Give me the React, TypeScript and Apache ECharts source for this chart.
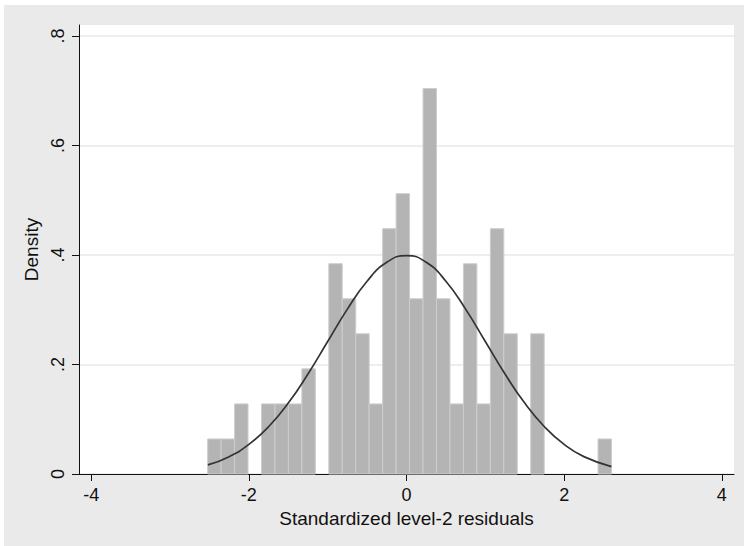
import React, { useEffect, useRef } from "react";
import * as echarts from "echarts";

// Histogram: density per bin (bins of equal width starting at binStart)
const binStart = -2.523;
const binWidth = 0.1708;
const densities = [
  0.064, 0.064, 0.128, 0, 0.128, 0.128, 0.128, 0.192, 0, 0.384,
  0.32, 0.256, 0.128, 0.448, 0.512, 0.32, 0.704, 0.32, 0.128, 0.384,
  0.128, 0.448, 0.256, 0, 0.256, 0, 0, 0, 0, 0.064,
];

// Normal density overlay
const curveX = [-2.52, -2.25, -2, -1.75, -1.5, -1.25, -1, -0.75, -0.5, -0.25, 0, 0.25, 0.5, 0.75, 1, 1.25, 1.5, 1.75, 2, 2.25, 2.6];
const curveY = [0.0166, 0.0317, 0.054, 0.0863, 0.1295, 0.1826, 0.242, 0.3011, 0.3521, 0.3867, 0.3989, 0.3867, 0.3521, 0.3011, 0.242, 0.1826, 0.1295, 0.0863, 0.054, 0.0317, 0.0136];

const xTicks = [-4, -2, 0, 2, 4];
const yTicks = [0, 0.2, 0.4, 0.6, 0.8];
const xTitle = "Standardized level-2 residuals";
const yTitle = "Density";

const FONT = "'Liberation Sans', Arial, Helvetica, sans-serif";

export default function App() {
  const ref = useRef<HTMLDivElement>(null);

  useEffect(() => {
    if (!ref.current) return;
    const chart = echarts.init(ref.current, undefined, { renderer: "svg" });

    const barData = densities
      .map((d, k) => [binStart + k * binWidth, binStart + (k + 1) * binWidth, d])
      .filter((r) => r[2] > 0);

    const lineData = curveX.map((x, i) => [x, curveY[i]]);

    const yFmt = (v: number) => {
      if (Math.abs(v) < 1e-9) return "0";
      return v.toFixed(1).replace(/^0/, "");
    };

    chart.setOption({
      animation: false,
      backgroundColor: "#eaeaea",
      textStyle: { fontFamily: FONT },
      grid: {
        left: 75,
        right: 10,
        top: 20,
        bottom: 72,
        show: true,
        backgroundColor: "#ffffff",
        borderWidth: 0,
      },
      xAxis: {
        type: "value",
        min: -4.155,
        max: 4.155,
        name: xTitle,
        nameLocation: "middle",
        nameGap: 30,
        nameTextStyle: { fontSize: 19, color: "#111", fontFamily: FONT },
        axisLine: { show: true, onZero: false, lineStyle: { color: "#111", width: 1 } },
        axisTick: { show: true, length: 7, customValues: xTicks, lineStyle: { color: "#111" } },
        axisLabel: { customValues: xTicks, fontSize: 18, color: "#111", margin: 12, fontFamily: FONT },
        splitLine: { show: false },
      },
      yAxis: {
        type: "value",
        min: 0,
        max: 0.82,
        name: yTitle,
        nameLocation: "middle",
        nameGap: 33,
        nameRotate: 90,
        nameTextStyle: { fontSize: 19, color: "#111", fontFamily: FONT },
        axisLine: { show: true, onZero: false, lineStyle: { color: "#111", width: 1 } },
        axisTick: { show: true, length: 7, customValues: yTicks, lineStyle: { color: "#111" } },
        axisLabel: {
          customValues: yTicks,
          rotate: 90,
          fontSize: 18,
          color: "#111",
          margin: 12,
          fontFamily: FONT,
          formatter: yFmt,
        },
        splitLine: { show: true, lineStyle: { color: "#e8e8e8", width: 1.5 } },
      },
      series: [
        {
          type: "custom",
          z: 2,
          data: barData,
          encode: { x: [0, 1], y: 2 },
          renderItem: (_params: any, api: any) => {
            const x0 = api.value(0);
            const x1 = api.value(1);
            const h = api.value(2);
            const p0 = api.coord([x0, h]);
            const p1 = api.coord([x1, 0]);
            return {
              type: "rect",
              shape: { x: p0[0], y: p0[1], width: p1[0] - p0[0], height: p1[1] - p0[1] },
              style: { fill: "#b4b4b4", stroke: "#cdcdcd", lineWidth: 1 },
            };
          },
        },
        {
          type: "line",
          z: 3,
          data: lineData,
          smooth: true,
          showSymbol: false,
          symbol: "none",
          lineStyle: { color: "#333333", width: 1.7 },
        },
      ],
    });

    return () => chart.dispose();
  }, []);

  return (
    <div style={{ position: "absolute", left: 0, top: 0, width: 744, height: 546, background: "#ffffff" }}>
      <div ref={ref} style={{ position: "absolute", left: 4, top: 5, width: 740, height: 541 }} />
    </div>
  );
}
